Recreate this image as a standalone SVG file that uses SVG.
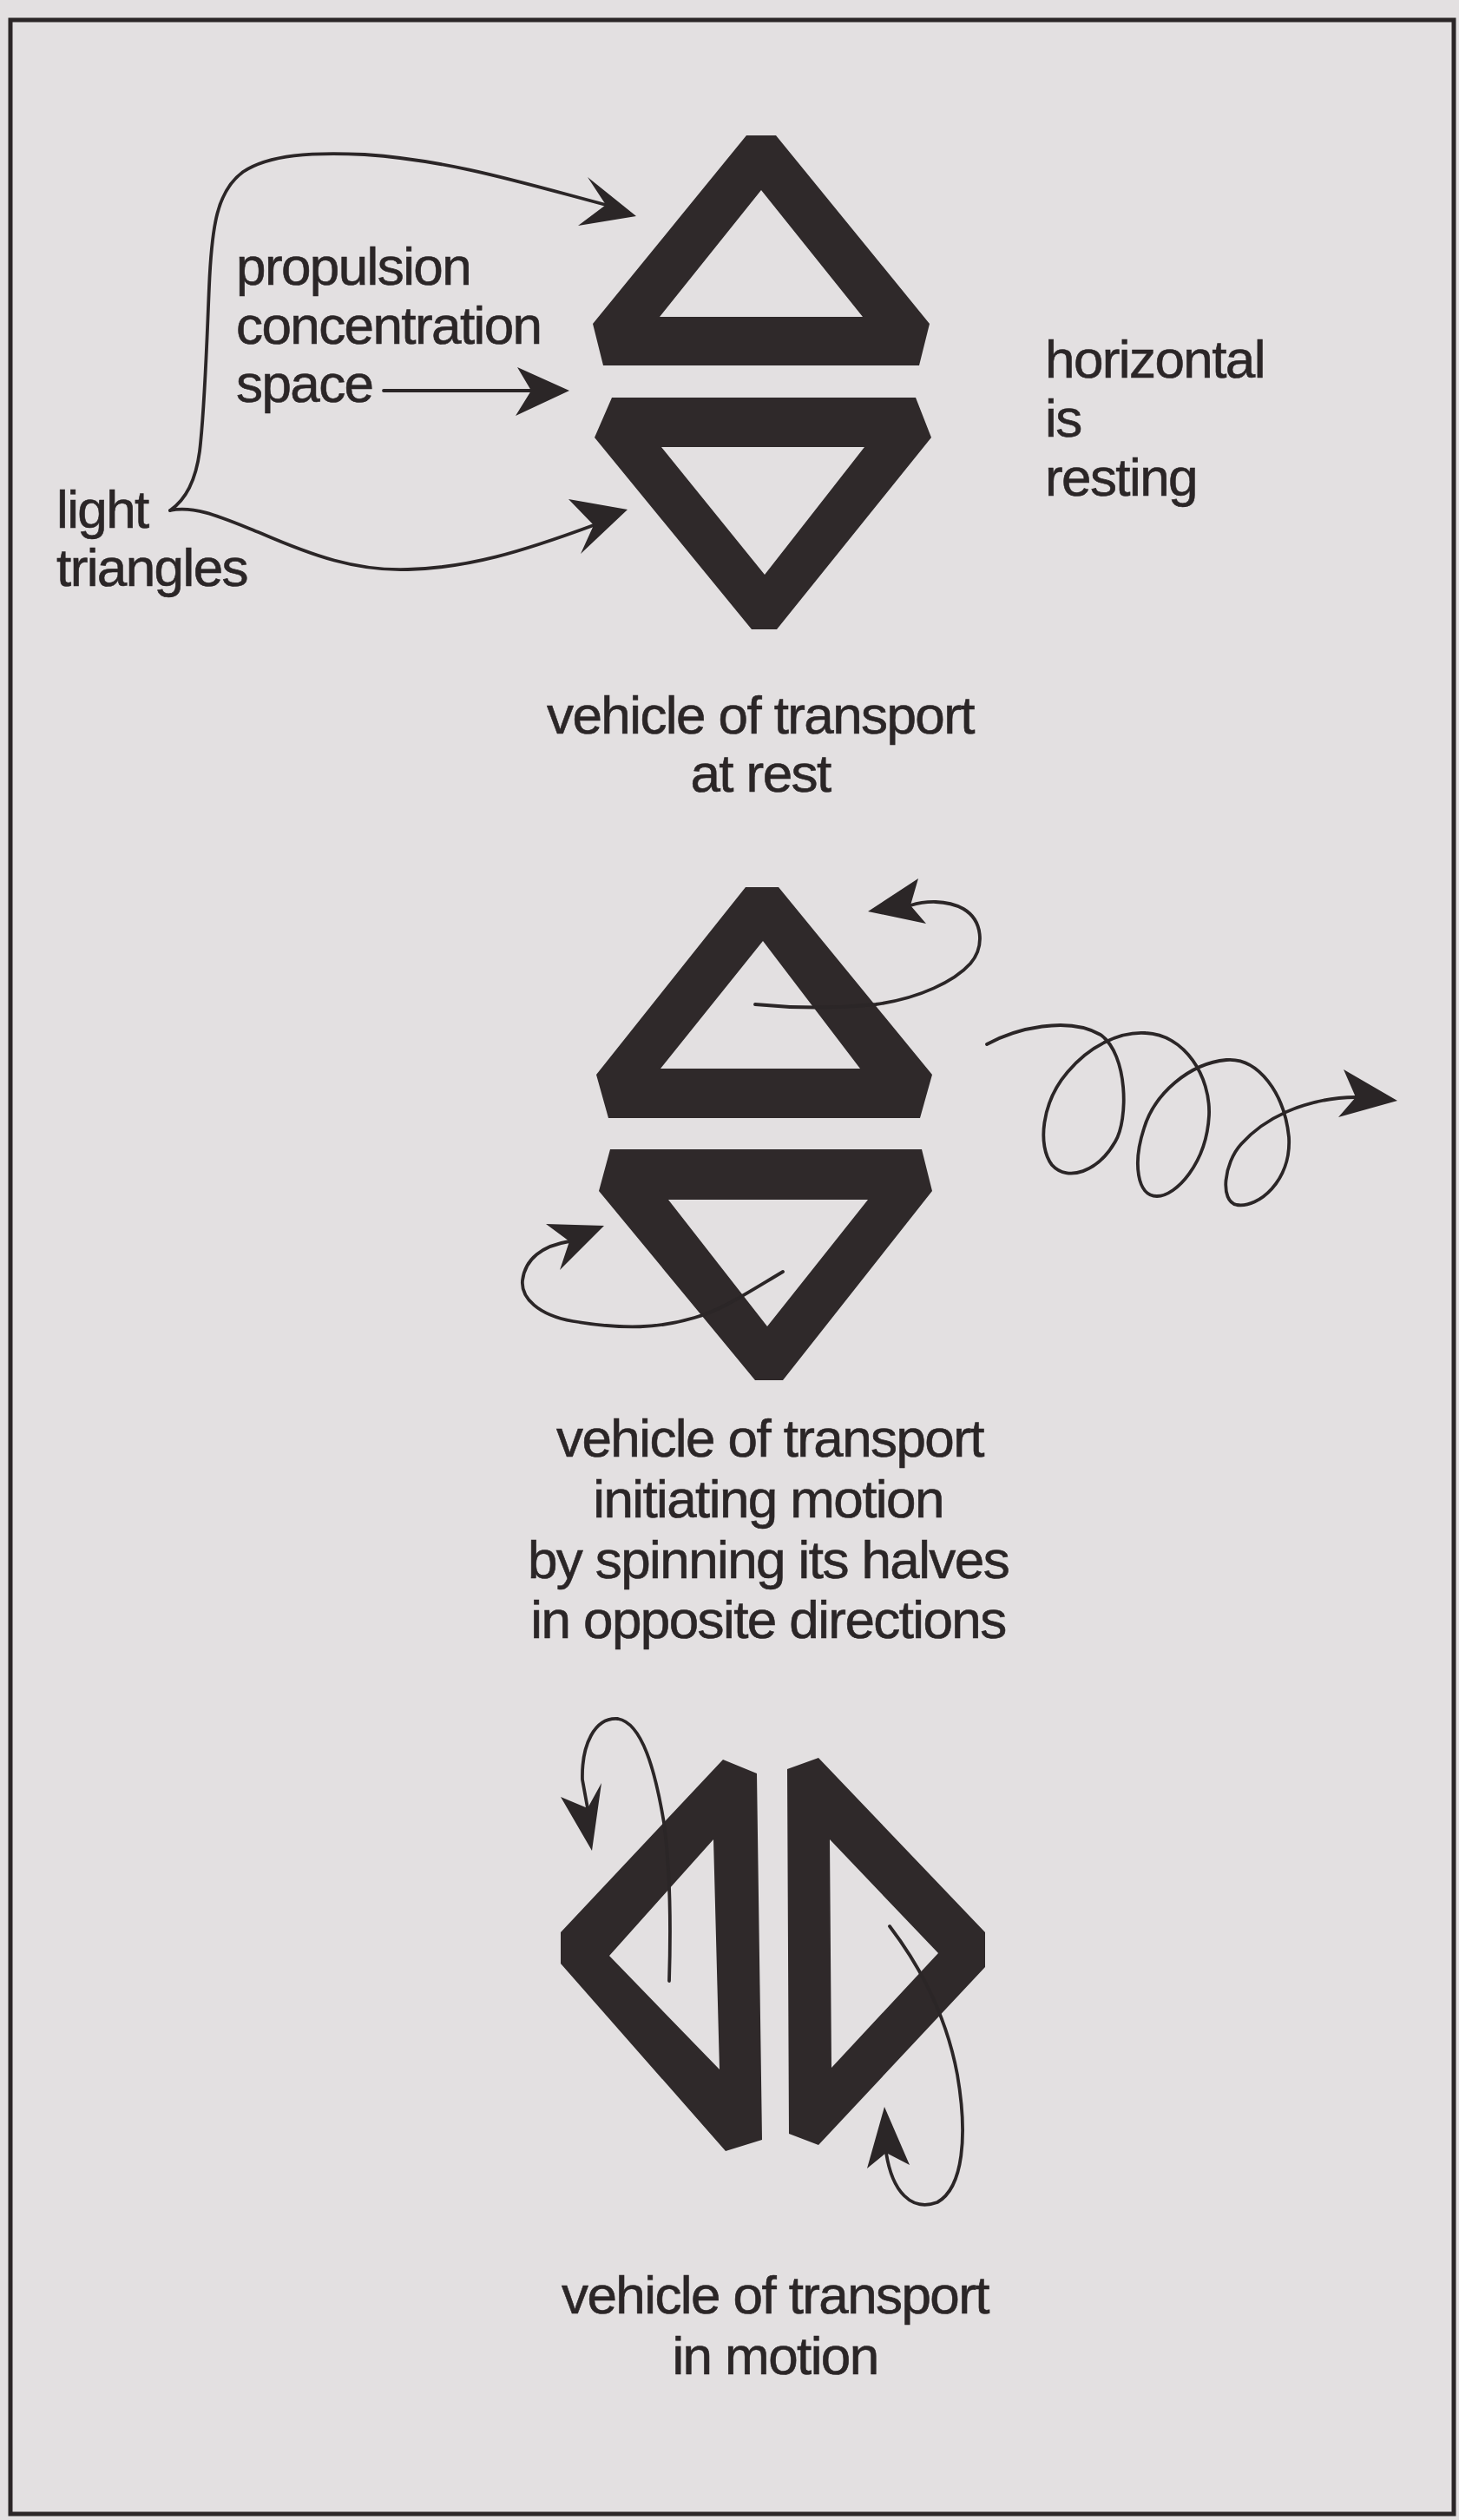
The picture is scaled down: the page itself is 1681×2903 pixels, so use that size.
<svg xmlns="http://www.w3.org/2000/svg" width="1681" height="2903" viewBox="0 0 1681 2903">
<style>
.bg{fill:#e3e0e1}
.frame{fill:none;stroke:#2b2627;stroke-width:5}
.tri{fill:#2f292a;fill-rule:evenodd}
.line{fill:none;stroke:#2b2627;stroke-width:3.8;stroke-linecap:round}
.head{fill:#2b2627}
text{font-family:"Liberation Sans",Arial,Helvetica,sans-serif;font-size:62px;letter-spacing:-1.6px;fill:#2b2627;stroke:#2b2627;stroke-width:0.6}
.mid{text-anchor:middle}
</style>
<rect class="bg" x="0" y="0" width="1681" height="2903"/>
<rect class="frame" x="12" y="23" width="1663" height="2873"/>

<g id="vehicle-rest">
  <path class="tri" d="M860,156 L894,156 L1071,373 L1059,421 L695,421 L683,373 Z M877,219 L994,365 L760,365 Z"/>
  <path class="tri" d="M705,458 L1055,458 L1073,504 L895,725 L866,725 L685,504 Z M762,515 L996,515 L881,662 Z"/>
</g>
<g id="vehicle-initiating">
  <path class="tri" d="M859,1022 L897,1022 L1074,1238 L1060,1288 L701,1288 L687,1238 Z M879,1084 L991,1231 L761,1231 Z"/>
  <path class="tri" d="M703,1324 L1062,1324 L1074,1372 L902,1590 L870,1590 L690,1372 Z M770,1382 L1000,1382 L884,1528 Z"/>
</g>
<g id="vehicle-motion">
  <path class="tri" d="M833,2027 L872,2043 L878,2465 L836,2478 L646,2262 L646,2226 Z M822,2119 L829,2384 L702,2253 Z"/>
  <path class="tri" d="M907,2038 L943,2025 L1135,2226 L1135,2266 L943,2471 L909,2458 Z M956,2119 L958,2382 L1081,2250 Z"/>
</g>

<g id="labels">
  <text x="272" y="328">propulsion</text>
  <text x="272" y="396">concentration</text>
  <text x="272" y="463">space</text>
  <text x="65" y="608">light</text>
  <text x="65" y="675">triangles</text>
  <text x="1204" y="435">horizontal</text>
  <text x="1204" y="503">is</text>
  <text x="1204" y="571">resting</text>
  <text class="mid" x="876" y="845">vehicle of transport</text>
  <text class="mid" x="876" y="912">at rest</text>
  <text class="mid" x="887" y="1678">vehicle of transport</text>
  <text class="mid" x="885" y="1748">initiating motion</text>
  <text class="mid" x="885" y="1818">by spinning its halves</text>
  <text class="mid" x="885" y="1887">in opposite directions</text>
  <text class="mid" x="893" y="2665">vehicle of transport</text>
  <text class="mid" x="893" y="2735">in motion</text>
</g>

<g id="connectors">
  <path class="line" d="M196,588 C215,575 226,550 230,520 C236,470 238,400 241,330 C244,260 250,220 280,198 C310,178 360,175 420,178 C520,185 600,210 698,236"/>
  <polygon class="head" points="733,249 677,204 698,236 666,260"/>
  <path class="line" d="M196,588 C225,582 255,596 300,614 C360,640 410,658 470,656 C540,654 600,636 684,605"/>
  <polygon class="head" points="723,587 655,575 684,605 669,638"/>
  <path class="line" d="M442,450 L612,450"/>
  <polygon class="head" points="656,450 596,423 612,450 594,479"/>

  <path class="line" d="M870,1157 C920,1162 970,1161 1009,1157 C1060,1150 1100,1130 1118,1110 C1135,1090 1132,1060 1110,1047 C1090,1036 1065,1038 1049,1043"/>
  <polygon class="head" points="1000,1050 1058,1012 1049,1043 1067,1064"/>
  <path class="line" d="M902,1465 C860,1490 830,1510 800,1518 C760,1530 720,1532 660,1522 C620,1515 600,1495 602,1475 C605,1450 625,1435 656,1430"/>
  <polygon class="head" points="696,1412 629,1410 656,1430 645,1463"/>

  <path class="line" d="M1137,1203 C1170,1185 1230,1170 1268,1192 C1300,1215 1300,1290 1285,1315 C1265,1350 1230,1362 1212,1342 C1195,1320 1200,1270 1230,1235 C1255,1205 1290,1188 1320,1190 C1365,1192 1395,1240 1393,1285 C1390,1340 1355,1378 1333,1378 C1310,1378 1305,1340 1318,1300 C1330,1260 1370,1225 1413,1221 C1450,1218 1480,1260 1485,1310 C1488,1360 1450,1392 1425,1388 C1405,1384 1410,1340 1430,1318 C1455,1290 1500,1265 1562,1264"/>
  <polygon class="head" points="1610,1268 1548,1232 1562,1264 1542,1287"/>

  <path class="line" d="M771,2282 C773,2220 773,2160 765,2100 C755,2040 740,1985 712,1980 C685,1978 670,2010 671,2050 L677,2083"/>
  <polygon class="head" points="682,2132 646,2070 677,2083 693,2054"/>
  <path class="line" d="M1025,2219 C1060,2265 1090,2320 1103,2390 C1115,2460 1110,2520 1080,2537 C1050,2548 1028,2525 1021,2480"/>
  <polygon class="head" points="1019,2427 999,2498 1021,2480 1048,2494"/>
</g>
</svg>
